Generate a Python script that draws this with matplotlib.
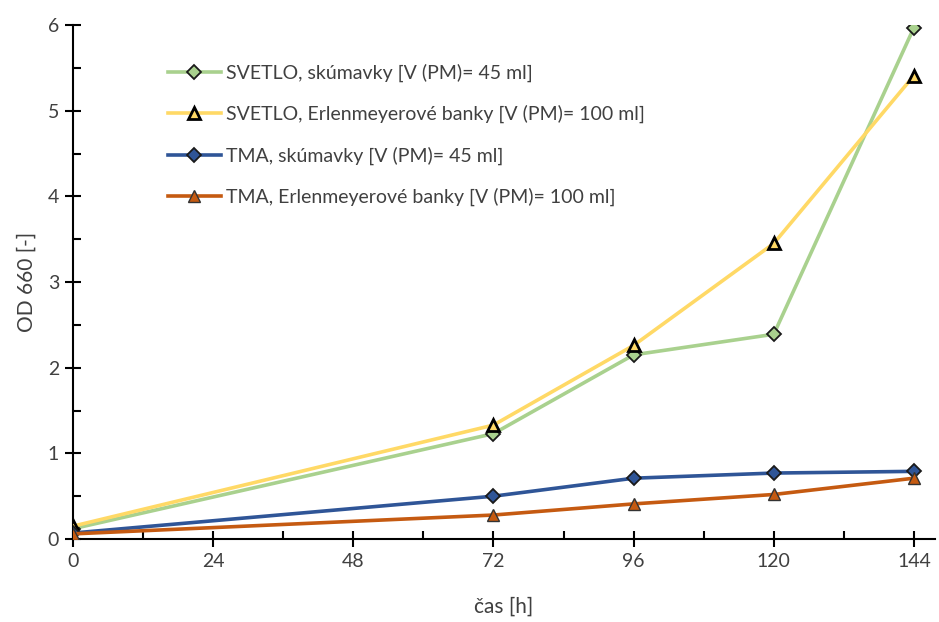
import numpy as np
import matplotlib
matplotlib.use("Agg")
import matplotlib.pyplot as plt
from matplotlib.ticker import MultipleLocator

plt.rcParams['font.family'] = ['Lato', 'DejaVu Sans']

# time points [h]
cas = [0, 72, 96, 120, 144]

# OD 660 values
svetlo_skum = [0.12, 1.23, 2.15, 2.39, 5.97]
svetlo_erlen = [0.15, 1.33, 2.26, 3.45, 5.41]
tma_skum = [0.07, 0.50, 0.71, 0.77, 0.79]
tma_erlen = [0.06, 0.28, 0.41, 0.52, 0.71]

labels = ['SVETLO, skúmavky [V (PM)= 45 ml]',
          'SVETLO, Erlenmeyerové banky [V (PM)= 100 ml]',
          'TMA, skúmavky [V (PM)= 45 ml]',
          'TMA, Erlenmeyerové banky [V (PM)= 100 ml]']

fig = plt.figure(figsize=(9.39, 6.22), dpi=100)
ax = fig.add_axes([0.0777, 0.1334, 0.918, 0.8264])

ax.plot(cas, svetlo_skum, color='#A9D18E', lw=2.6, marker='D', ms=7,
        mfc='#A9D18E', mec='#1a1a1a', mew=1.3, label=labels[0], zorder=3)
ax.plot(cas, svetlo_erlen, color='#FFD966', lw=2.6, marker='^', ms=9,
        mfc='#FFD966', mec='black', mew=2, label=labels[1], zorder=3)
ax.plot(cas, tma_skum, color='#2F5597', lw=2.6, marker='D', ms=7,
        mfc='#2F5597', mec='#1a1a1a', mew=1.3, label=labels[2], zorder=3)
ax.plot(cas, tma_erlen, color='#C55A11', lw=2.6, marker='^', ms=9,
        mfc='#C55A11', mec='#333333', mew=1, label=labels[3], zorder=3)

ax.set_xlim(0, 147.6)
ax.set_ylim(0, 6)
ax.xaxis.set_major_locator(MultipleLocator(24))
ax.xaxis.set_minor_locator(MultipleLocator(12))
ax.yaxis.set_major_locator(MultipleLocator(1))
ax.yaxis.set_minor_locator(MultipleLocator(0.5))

for s in ['top', 'right']:
    ax.spines[s].set_visible(False)
for s in ['left', 'bottom']:
    ax.spines[s].set_linewidth(1.5)
    ax.spines[s].set_color('black')

ax.tick_params(which='major', direction='inout', length=12, width=1.5,
               labelsize=14, colors='black', labelcolor='#404040', pad=4)
ax.tick_params(which='minor', direction='in', length=6, width=1.5)

ax.set_xlabel('čas [h]', fontsize=15, color='#404040', labelpad=19)
ax.set_ylabel('OD 660 [-]', fontsize=15, color='#404040', labelpad=8)

leg = ax.legend(loc='upper left', bbox_to_anchor=(0.09, 0.958), frameon=False,
                fontsize=14, handlelength=2.7, labelspacing=1.17,
                handletextpad=0.3)
for t in leg.get_texts():
    t.set_color('#404040')

fig.savefig('out.png', dpi=100)
